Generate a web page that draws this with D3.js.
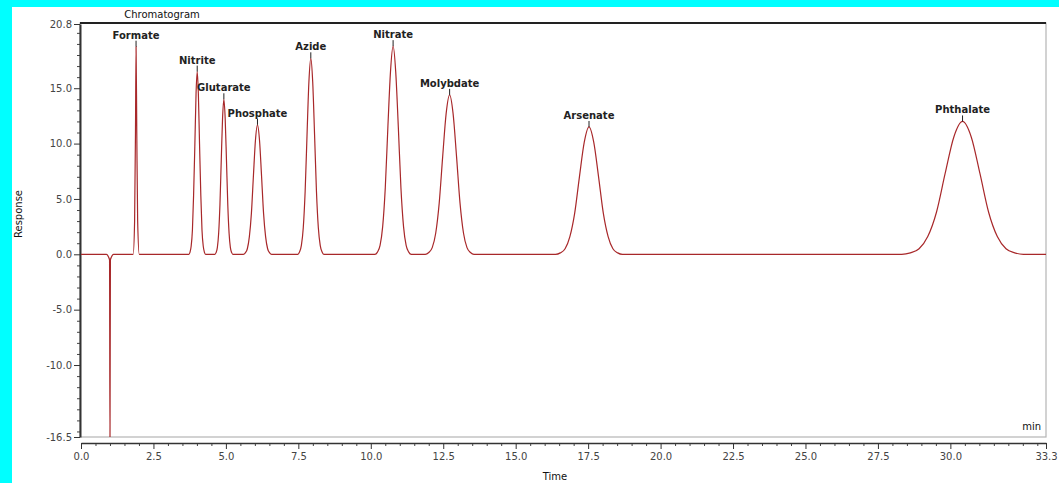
<!DOCTYPE html>
<html>
<head>
<meta charset="utf-8">
<script src="https://cdn.jsdelivr.net/npm/d3@7"></script>
<style>
  html, body { margin: 0; padding: 0; background: #00FFFF; }
  svg { display: block; }
  text { font-family: "DejaVu Sans", Verdana, sans-serif; }
</style>
</head>
<body>
<svg id="chart" width="1059" height="483"></svg>
<script>
// ---- data ----
const chartTitle = "Chromatogram";
const xAxisTitle = "Time";
const yAxisTitle = "Response";
const unitLabel = "min";

const peakNames   = ["Formate", "Nitrite", "Glutarate", "Phosphate", "Azide", "Nitrate", "Molybdate", "Arsenate", "Phthalate"];
const peakTimes   = [1.90, 4.01, 4.93, 6.09, 7.93, 10.77, 12.72, 17.53, 30.42];
const peakHeights = [18.75, 16.5, 14.0, 11.7, 17.7, 18.8, 14.4, 11.5, 12.0];

const traceTime = [
  0, 0.88, 0.95, 0.985, 1.0, 1.015, 1.05, 1.12,
  1.80, 1.85, 1.88, 1.90, 1.925, 1.955, 2.01,
  3.72, 3.76, 3.80, 3.845, 3.885, 3.93, 3.97, 4.01, 4.05, 4.09, 4.135, 4.175, 4.22, 4.26, 4.30,
  4.62, 4.66, 4.705, 4.75, 4.795, 4.84, 4.885, 4.93, 4.975, 5.02, 5.065, 5.11, 5.155, 5.20, 5.24,
  5.60, 5.67, 5.74, 5.81, 5.88, 5.95, 6.02, 6.09, 6.16, 6.23, 6.30, 6.37, 6.44, 6.51, 6.58,
  7.48, 7.54, 7.605, 7.67, 7.735, 7.80, 7.865, 7.93, 7.995, 8.06, 8.125, 8.19, 8.255, 8.32, 8.38,
  10.14, 10.23, 10.32, 10.41, 10.50, 10.59, 10.68, 10.77, 10.86, 10.95, 11.04, 11.13, 11.22, 11.31, 11.40,
  11.88, 12.00, 12.12, 12.24, 12.36, 12.48, 12.60, 12.72, 12.84, 12.96, 13.08, 13.20, 13.32, 13.44, 13.56,
  16.375, 16.54, 16.705, 16.87, 17.035, 17.20, 17.365, 17.53, 17.695, 17.86, 18.025, 18.19, 18.355, 18.52, 18.685,
  28.32, 28.62, 28.92, 29.22, 29.52, 29.82, 30.12, 30.42, 30.72, 31.02, 31.32, 31.62, 31.92, 32.22, 32.52,
  33.3
];
const traceResponse = [
  0, 0, -0.25, -0.5, -17.5, -0.5, -0.25, 0,
  0, 3.0, 11.0, 18.75, 11.0, 3.0, 0,
  0, 0.18, 0.7, 2.2, 5.3, 10.0, 14.5, 16.5, 14.5, 10.0, 5.3, 2.2, 0.7, 0.18, 0,
  0, 0.15, 0.6, 1.9, 4.5, 8.5, 12.3, 14.0, 12.3, 8.5, 4.5, 1.9, 0.6, 0.15, 0,
  0, 0.13, 0.5, 1.6, 3.7, 7.1, 10.3, 11.7, 10.3, 7.1, 3.7, 1.6, 0.5, 0.13, 0,
  0, 0.2, 0.8, 2.4, 5.7, 10.8, 15.6, 17.7, 15.6, 10.8, 5.7, 2.4, 0.8, 0.2, 0,
  0, 0.2, 0.8, 2.5, 6.0, 11.5, 16.5, 18.8, 16.5, 11.5, 6.0, 2.5, 0.8, 0.2, 0,
  0, 0.16, 0.6, 1.9, 4.6, 8.8, 12.7, 14.4, 12.7, 8.8, 4.6, 1.9, 0.6, 0.16, 0,
  0, 0.13, 0.5, 1.6, 3.7, 7.0, 10.1, 11.5, 10.1, 7.0, 3.7, 1.6, 0.5, 0.13, 0,
  0, 0.13, 0.5, 1.6, 3.8, 7.3, 10.6, 12.0, 10.6, 7.3, 3.8, 1.6, 0.5, 0.13, 0,
  0
];

const yMajorTicks = [20.8, 15.0, 10.0, 5.0, 0.0, -5.0, -10.0, -16.5];
const yTickLabels = ["20.8", "15.0", "10.0", "5.0", "0.0", "-5.0", "-10.0", "-16.5"];
const xMajorTicks = [0, 2.5, 5, 7.5, 10, 12.5, 15, 17.5, 20, 22.5, 25, 27.5, 30, 33.3];
const xTickLabels = ["0.0", "2.5", "5.0", "7.5", "10.0", "12.5", "15.0", "17.5", "20.0", "22.5", "25.0", "27.5", "30.0", "33.3"];
const yDomain = [-16.5, 20.8];
const xDomain = [0, 33.3];

// ---- layout ----
const svg = d3.select("#chart");
const plotL = 80, plotR = 1046, plotT = 23, plotB = 437;

svg.append("rect").attr("x", 12).attr("y", 7).attr("width", 1047).attr("height", 476).attr("fill", "#ffffff");

const x = d3.scaleLinear().domain(xDomain).range([plotL + 1, plotR]);
const y = d3.scaleLinear().domain(yDomain).range([plotB, plotT + 1]);

// plot frame
svg.append("rect").attr("x", plotL).attr("y", plotT).attr("width", plotR - plotL).attr("height", plotB - plotT)
  .attr("fill", "none").attr("stroke", "#b4b4b4").attr("stroke-width", 1.2);
svg.append("line").attr("x1", plotL).attr("x2", plotR).attr("y1", plotT).attr("y2", plotT)
  .attr("stroke", "#222").attr("stroke-width", 2);

// y axis
const yMinor = d3.range(-16, 21, 1).filter(v => !yMajorTicks.includes(v));
const yAxisMinor = svg.append("g").attr("transform", `translate(${plotL},0)`)
  .call(d3.axisLeft(y).tickValues(yMinor).tickSize(3).tickFormat(""));
yAxisMinor.select(".domain").remove();
yAxisMinor.selectAll("line").attr("stroke", "#444");

const yAxis = svg.append("g").attr("transform", `translate(${plotL},0)`)
  .call(d3.axisLeft(y).tickValues(yMajorTicks).tickSize(6).tickSizeOuter(0).tickPadding(2)
    .tickFormat((d, i) => yTickLabels[i]));
yAxis.select(".domain").attr("stroke", "#333").attr("stroke-width", 2);
yAxis.selectAll("line").attr("stroke", "#333");
yAxis.selectAll("text").attr("fill", "#444").style("font-size", "10px").style("font-family", '"DejaVu Sans", sans-serif');

// x axis
const xAxisY = 443;
const xMinor = d3.range(0, 33.3, 0.5).filter(v => !xMajorTicks.includes(v));
const xAxisMinor = svg.append("g").attr("transform", `translate(0,${xAxisY})`)
  .call(d3.axisBottom(x).tickValues(xMinor).tickSize(3).tickFormat(""));
xAxisMinor.select(".domain").remove();
xAxisMinor.selectAll("line").attr("stroke", "#444");

const xAxis = svg.append("g").attr("transform", `translate(0,${xAxisY})`)
  .call(d3.axisBottom(x).tickValues(xMajorTicks).tickSize(6).tickSizeOuter(0).tickPadding(4)
    .tickFormat((d, i) => xTickLabels[i]));
xAxis.select(".domain").attr("stroke", "#333").attr("stroke-width", 1.6);
xAxis.selectAll("line").attr("stroke", "#333");
xAxis.selectAll("text").attr("fill", "#444").style("font-size", "10px").style("font-family", '"DejaVu Sans", sans-serif');

// trace
svg.append("clipPath").attr("id", "plotclip").append("rect")
  .attr("x", plotL + 1).attr("y", plotT + 1).attr("width", plotR - plotL - 1).attr("height", plotB - plotT - 1);

const traceData = traceTime.map((t, i) => ({ t, r: traceResponse[i] }));
const line = d3.line().x(d => x(d.t)).y(d => y(d.r)).curve(d3.curveMonotoneX);
svg.append("path").datum(traceData)
  .attr("clip-path", "url(#plotclip)")
  .attr("d", line)
  .attr("fill", "none")
  .attr("stroke", "#a8282a")
  .attr("stroke-width", 1.2);

// peak labels
const peaks = peakNames.map((n, i) => ({ name: n, t: peakTimes[i], h: peakHeights[i] }));
const pg = svg.append("g");
pg.selectAll("line.pk").data(peaks).join("line")
  .attr("x1", d => x(d.t)).attr("x2", d => x(d.t))
  .attr("y1", d => y(d.h) - 6).attr("y2", d => y(d.h))
  .attr("stroke", "#222").attr("stroke-width", 1);
pg.selectAll("text.pk").data(peaks).join("text")
  .attr("x", d => x(d.t)).attr("y", d => y(d.h) - 8)
  .attr("text-anchor", "middle")
  .attr("fill", "#222")
  .style("font-size", "10px")
  .style("font-weight", "bold")
  .text(d => d.name);

// titles
svg.append("text").attr("x", 162).attr("y", 18).attr("text-anchor", "middle")
  .attr("fill", "#111").style("font-size", "10px").text(chartTitle);
svg.append("text").attr("x", 555).attr("y", 480).attr("text-anchor", "middle")
  .attr("fill", "#111").style("font-size", "10px").text(xAxisTitle);
svg.append("text").attr("transform", "translate(22,214) rotate(-90)").attr("text-anchor", "middle")
  .attr("fill", "#111").style("font-size", "10px").text(yAxisTitle);
svg.append("text").attr("x", 1041).attr("y", 430).attr("text-anchor", "end")
  .attr("fill", "#111").style("font-size", "10px").text(unitLabel);
</script>
</body>
</html>
